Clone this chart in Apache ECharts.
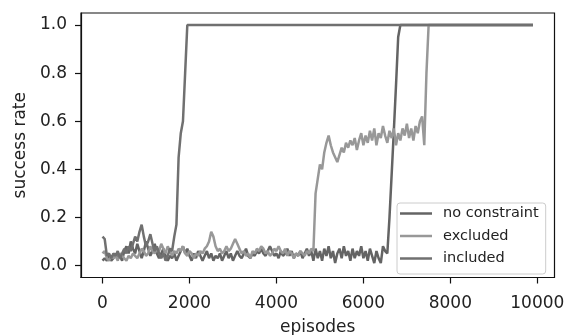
<!DOCTYPE html>
<html>
<head>
<meta charset="utf-8">
<script src="https://cdn.jsdelivr.net/npm/echarts@6/dist/echarts.min.js"></script>
<style>html,body{margin:0;padding:0;background:#fff;}#c{width:572px;height:335px;}</style>
</head>
<body>
<div id="c"></div>
<script>
// episodes (x values)
const episodes = [
  0,50,100,150,200,250,300,350,400,450,
  500,550,600,650,700,750,800,850,900,950,
  1000,1050,1100,1150,1200,1250,1300,1350,1400,1450,
  1500,1550,1600,1650,1700,1750,1800,1850,1900,1950,
  2000,2050,2100,2150,2200,2250,2300,2350,2400,2450,
  2500,2550,2600,2650,2700,2750,2800,2850,2900,2950,
  3000,3050,3100,3150,3200,3250,3300,3350,3400,3450,
  3500,3550,3600,3650,3700,3750,3800,3850,3900,3950,
  4000,4050,4100,4150,4200,4250,4300,4350,4400,4450,
  4500,4550,4600,4650,4700,4750,4800,4850,4900,4950,
  5000,5050,5100,5150,5200,5250,5300,5350,5400,5450,
  5500,5550,5600,5650,5700,5750,5800,5850,5900,5950,
  6000,6050,6100,6150,6200,6250,6300,6350,6400,6450,
  6500,6550,6600,6650,6700,6750,6800,6850,6900,6950,
  7000,7050,7100,7150,7200,7250,7300,7350,7400,7450,
  7500,9900
];

const noConstraint = [
  0.02,0.03,0.02,0.04,0.02,0.03,0.05,0.03,0.04,0.02,
  0.06,0.08,0.05,0.10,0.07,0.05,0.09,0.06,0.03,0.06,
  0.10,0.07,0.04,0.06,0.09,0.05,0.03,0.05,0.07,0.04,
  0.02,0.04,0.03,0.05,0.02,0.04,0.06,0.08,0.05,0.07,
  0.04,0.02,0.05,0.03,0.06,0.04,0.02,0.04,0.06,0.03,
  0.05,0.02,0.04,0.03,0.05,0.02,0.04,0.06,0.03,0.05,
  0.02,0.04,0.06,0.04,0.03,0.05,0.07,0.04,0.03,0.05,
  0.04,0.06,0.05,0.07,0.05,0.04,0.06,0.08,0.06,0.04,
  0.05,0.03,0.06,0.04,0.05,0.07,0.04,0.06,0.03,0.05,
  0.04,0.06,0.03,0.05,0.07,0.04,0.06,0.02,0.07,0.03,
  0.06,0.02,0.07,0.04,0.08,0.03,0.06,0.01,0.05,0.07,
  0.03,0.08,0.04,0.06,0.02,0.07,0.03,0.06,0.04,0.08,
  0.03,0.06,0.02,0.07,0.04,0.01,0.06,0.03,0.01,0.08,
  0.06,0.05,0.20,0.38,0.56,0.75,0.95,1.0,1.0,1.0,
  1.0,1.0,1.0,1.0,1.0,1.0,1.0,1.0,1.0,1.0,
  1.0,1.0
];

const excluded = [
  0.05,0.06,0.03,0.02,0.04,0.03,0.04,0.02,0.05,0.04,
  0.03,0.02,0.04,0.03,0.05,0.04,0.03,0.05,0.07,0.06,
  0.04,0.05,0.08,0.06,0.05,0.07,0.06,0.09,0.07,0.05,
  0.08,0.06,0.04,0.06,0.05,0.07,0.06,0.08,0.05,0.04,
  0.06,0.05,0.03,0.05,0.04,0.06,0.05,0.07,0.08,0.10,
  0.14,0.12,0.08,0.06,0.07,0.05,0.06,0.08,0.06,0.07,
  0.09,0.11,0.09,0.07,0.05,0.06,0.04,0.05,0.03,0.06,
  0.05,0.07,0.06,0.08,0.07,0.05,0.06,0.04,0.05,0.07,
  0.06,0.08,0.06,0.05,0.07,0.04,0.06,0.05,0.03,0.05,
  0.04,0.06,0.05,0.04,0.06,0.05,0.07,0.06,0.30,0.36,
  0.42,0.40,0.47,0.51,0.54,0.50,0.47,0.45,0.43,0.46,
  0.49,0.47,0.51,0.49,0.52,0.50,0.53,0.48,0.52,0.55,
  0.50,0.54,0.51,0.56,0.52,0.57,0.50,0.55,0.53,0.58,
  0.54,0.51,0.56,0.53,0.57,0.50,0.55,0.52,0.57,0.54,
  0.59,0.53,0.57,0.52,0.58,0.55,0.60,0.62,0.50,0.80,
  1.0,1.0
];

const included = [
  0.12,0.11,0.04,0.05,0.03,0.05,0.04,0.06,0.03,0.05,
  0.07,0.05,0.08,0.06,0.09,0.12,0.10,0.14,0.17,0.12,
  0.08,0.10,0.13,0.09,0.06,0.08,0.05,0.03,0.05,0.02,
  0.04,0.07,0.06,0.12,0.17,0.45,0.55,0.60,0.80,1.0,
  1.0,1.0,1.0,1.0,1.0,1.0,1.0,1.0,1.0,1.0,
  1.0,1.0,1.0,1.0,1.0,1.0,1.0,1.0,1.0,1.0,
  1.0,1.0,1.0,1.0,1.0,1.0,1.0,1.0,1.0,1.0,
  1.0,1.0,1.0,1.0,1.0,1.0,1.0,1.0,1.0,1.0,
  1.0,1.0,1.0,1.0,1.0,1.0,1.0,1.0,1.0,1.0,
  1.0,1.0,1.0,1.0,1.0,1.0,1.0,1.0,1.0,1.0,
  1.0,1.0,1.0,1.0,1.0,1.0,1.0,1.0,1.0,1.0,
  1.0,1.0,1.0,1.0,1.0,1.0,1.0,1.0,1.0,1.0,
  1.0,1.0,1.0,1.0,1.0,1.0,1.0,1.0,1.0,1.0,
  1.0,1.0,1.0,1.0,1.0,1.0,1.0,1.0,1.0,1.0,
  1.0,1.0,1.0,1.0,1.0,1.0,1.0,1.0,1.0,1.0,
  1.0,1.0
];

const xTicks = [0, 2000, 4000, 6000, 8000, 10000];
const yTicks = [0, 0.2, 0.4, 0.6, 0.8, 1.0];
const seriesNames = ['no constraint', 'excluded', 'included'];
const seriesColors = ['#646464', '#989898', '#707070'];

const allValues = [noConstraint, excluded, included];
const font = 'DejaVu Sans';

const chart = echarts.init(document.getElementById('c'), null, {renderer: 'canvas'});
chart.setOption({
  animation: false,
  backgroundColor: '#fff',
  grid: {left: 81, right: 17.5, top: 13, bottom: 57.5, containLabel: false, outerBoundsMode: 'none',
    show: true, borderColor: '#111', borderWidth: 1.2, backgroundColor: 'transparent'},
  xAxis: {
    type: 'value', min: -495, max: 10395,
    name: 'episodes', nameLocation: 'middle', nameGap: 42,
    nameTextStyle: {fontFamily: font, fontSize: 17, color: '#222'},
    axisLine: {show: true, onZero: false, lineStyle: {color: '#111', width: 1.2}},
    axisTick: {show: true, length: 6, customValues: xTicks, lineStyle: {color: '#111', width: 1.2}},
    axisLabel: {customValues: xTicks, margin: 18, fontFamily: font, fontSize: 17, color: '#222',
      formatter: v => String(v)},
    splitLine: {show: false}
  },
  yAxis: {
    type: 'value', min: -0.05, max: 1.05,
    name: 'success rate', nameLocation: 'middle', nameGap: 51, nameRotate: 90,
    nameTextStyle: {fontFamily: font, fontSize: 17, color: '#222'},
    axisLine: {show: true, onZero: false, lineStyle: {color: '#111', width: 1.2}},
    axisTick: {show: true, length: 6, customValues: yTicks, lineStyle: {color: '#111', width: 1.2}},
    axisLabel: {customValues: yTicks, margin: 14, fontFamily: font, fontSize: 17, color: '#222',
      formatter: v => v.toFixed(1)},
    splitLine: {show: false}
  },
  legend: {
    orient: 'vertical', left: 397, top: 203,
    padding: [3, 7, 8, 3], itemGap: 7.5,
    icon: 'rect', itemWidth: 32, itemHeight: 2.5,
    backgroundColor: 'rgba(255,255,255,0.85)', borderColor: '#cccccc', borderWidth: 1, borderRadius: 3,
    textStyle: {fontFamily: font, fontSize: 14.5, color: '#222', lineHeight: 14, padding: [0, 0, 0, 6]},
    data: seriesNames
  },
  series: seriesNames.map((name, k) => ({
    name: name, type: 'line', symbol: 'none', showSymbol: false,
    color: seriesColors[k],
    lineStyle: {color: seriesColors[k], width: 2.5},
    itemStyle: {color: seriesColors[k]},
    data: episodes.map((e, i) => [e, allValues[k][i]])
  }))
});
</script>
</body>
</html>
